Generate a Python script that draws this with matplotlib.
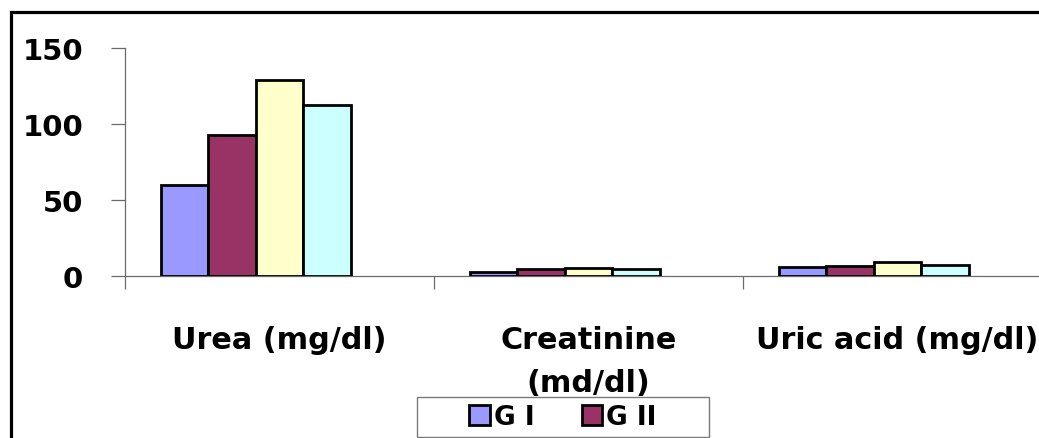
import numpy as np
import matplotlib
matplotlib.use("Agg")
import matplotlib.pyplot as plt
from matplotlib.patches import Rectangle
from matplotlib.ticker import FixedLocator, NullFormatter

# Serum kidney-function markers by group
categories = ["Urea (mg/dl)", "Creatinine\n(md/dl)", "Uric acid (mg/dl)"]
groups = ["G I", "G II", "G III", "G IV"]
g1 = [60.0, 2.5, 5.6]
g2 = [92.5, 4.2, 6.4]
g3 = [129.0, 4.9, 8.9]
g4 = [112.5, 4.6, 7.1]
series = [g1, g2, g3, g4]
colors = ["#9999FF", "#993366", "#FFFFCC", "#CCFFFF"]
yticks = [0, 50, 100, 150]

W, H = 1039, 439
DPI = 100
plt.rcParams["font.family"] = ["DejaVu Sans"]
plt.rcParams["font.weight"] = "bold"

fig = plt.figure(figsize=(W / DPI, H / DPI), dpi=DPI)
fig.patch.set_facecolor("white")

# plot area in pixel coordinates (left, zero line, top)
x_left, x_right = 125, 1052
y_zero, y_top = 276.7, 49.3
ax = fig.add_axes([x_left / W, 1 - y_zero / H, (x_right - x_left) / W, (y_zero - y_top) / H])

# five slots per cluster (one slot unused), gap width 150 %
n_slots = 5
bar_w = 1.0 / (n_slots + 1.5)
x = np.arange(len(categories))
for i, (vals, col) in enumerate(zip(series, colors)):
    offs = (i - (n_slots - 1) / 2) * bar_w
    ax.bar(x + offs, vals, width=bar_w, color=col, edgecolor="black",
           linewidth=2.0, zorder=3)

ax.set_xlim(-0.5, len(categories) - 0.5)
ax.set_ylim(0, 150)
ax.set_yticks(yticks)
ax.set_yticklabels([str(v) for v in yticks], fontsize=21, fontweight="bold")

ax.set_xticks(x)
ax.set_xticklabels(categories, fontsize=21.8, fontweight="bold", linespacing=1.6,
                   va="top")
ax.xaxis.set_minor_locator(FixedLocator(np.arange(len(categories) + 1) - 0.5))
ax.xaxis.set_minor_formatter(NullFormatter())

axis_col = "#6b6b6b"
ax.tick_params(axis="x", which="major", length=0, pad=35.5)
ax.tick_params(axis="x", which="minor", length=9.5, width=0.9, color=axis_col,
               direction="out")
ax.tick_params(axis="y", length=10, width=0.9, color=axis_col, direction="out",
               pad=20)
for side in ("top", "right"):
    ax.spines[side].set_visible(False)
for side in ("left", "bottom"):
    ax.spines[side].set_color(axis_col)
    ax.spines[side].set_linewidth(0.9)
ax.set_facecolor("none")

# outer chart border
fig.patches.append(Rectangle((10.8 / W, -0.2), 1.3, 1.2 - 13.3 / H,
                             transform=fig.transFigure, fill=False,
                             edgecolor="black", linewidth=2.3, clip_on=False))

# legend box
lx0, ly0, lx1, ly1 = 417, 398, 709, 438
fig.patches.append(Rectangle((lx0 / W, 1 - ly1 / H), (lx1 - lx0) / W, (ly1 - ly0) / H,
                             transform=fig.transFigure, facecolor="white",
                             edgecolor="#7a7a7a", linewidth=1.0, zorder=5))
handles = [Rectangle((0, 0), 1, 1, facecolor=c, edgecolor="black", linewidth=2.0)
           for c in colors[:2]]
leg = fig.legend(handles, groups[:2], loc="center",
                 bbox_to_anchor=((lx0 + lx1) / 2 / W, 1 - (ly0 + ly1) / 2 / H),
                 ncol=2, frameon=False, prop={"size": 19, "weight": "bold"},
                 handlelength=0.78, handleheight=0.78, handletextpad=0.15,
                 columnspacing=1.8, borderpad=0.0)
leg.set_zorder(6)

fig.savefig("out.png", dpi=DPI, facecolor="white")
